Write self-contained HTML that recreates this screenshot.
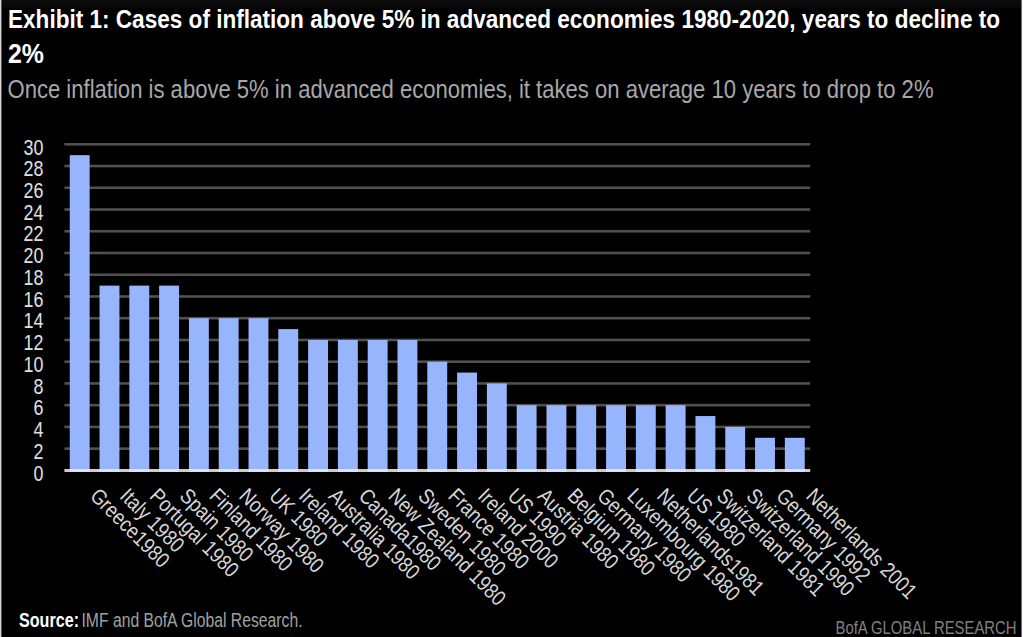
<!DOCTYPE html><html><head><meta charset="utf-8"><style>html,body{margin:0;padding:0;background:#000;width:1023px;height:637px;overflow:hidden}svg{display:block}</style></head><body>
<svg width="1023" height="637" viewBox="0 0 1023 637" font-family="Liberation Sans, sans-serif">
<rect x="0" y="0" width="1023" height="637" fill="#000"/>
<defs><linearGradient id="tg" x1="0" y1="0" x2="0" y2="1"><stop offset="0" stop-color="#0c0c0c"/><stop offset="0.5" stop-color="#0a0a0a"/><stop offset="1" stop-color="#000"/></linearGradient></defs>
<rect x="0" y="0" width="1023" height="10" fill="url(#tg)"/>
<rect x="0" y="0" width="1" height="637" fill="#d8d8d8"/><rect x="1" y="0" width="1" height="637" fill="#5a5a5a"/>
<rect x="1021" y="0" width="1" height="637" fill="#707070"/><rect x="1022" y="0" width="1" height="637" fill="#f8f8f8"/>
<text x="8" y="28.2" font-size="25.5" font-weight="bold" fill="#fff" textLength="992" lengthAdjust="spacingAndGlyphs">Exhibit 1: Cases of inflation above 5% in advanced economies 1980-2020, years to decline to</text>
<text x="8" y="62.8" font-size="27" font-weight="bold" fill="#fff" textLength="36" lengthAdjust="spacingAndGlyphs">2%</text>
<text x="7.5" y="98" font-size="25" fill="#a8a8a8" textLength="926" lengthAdjust="spacingAndGlyphs">Once inflation is above 5% in advanced economies, it takes on average 10 years to drop to 2%</text>
<rect x="64.40" y="447.36" width="745.80" height="2.6" fill="#52504c"/>
<rect x="64.40" y="425.62" width="745.80" height="2.6" fill="#52504c"/>
<rect x="64.40" y="403.88" width="745.80" height="2.6" fill="#52504c"/>
<rect x="64.40" y="382.14" width="745.80" height="2.6" fill="#52504c"/>
<rect x="64.40" y="360.40" width="745.80" height="2.6" fill="#52504c"/>
<rect x="64.40" y="338.66" width="745.80" height="2.6" fill="#52504c"/>
<rect x="64.40" y="316.92" width="745.80" height="2.6" fill="#52504c"/>
<rect x="64.40" y="295.18" width="745.80" height="2.6" fill="#52504c"/>
<rect x="64.40" y="273.44" width="745.80" height="2.6" fill="#52504c"/>
<rect x="64.40" y="251.70" width="745.80" height="2.6" fill="#52504c"/>
<rect x="64.40" y="229.96" width="745.80" height="2.6" fill="#52504c"/>
<rect x="64.40" y="208.22" width="745.80" height="2.6" fill="#52504c"/>
<rect x="64.40" y="186.48" width="745.80" height="2.6" fill="#52504c"/>
<rect x="64.40" y="164.74" width="745.80" height="2.6" fill="#52504c"/>
<rect x="64.40" y="143.00" width="745.80" height="2.6" fill="#52504c"/>
<text x="0" y="0" font-size="21.5" fill="#e0e0e0" text-anchor="end" transform="translate(43.4,480.60) scale(0.83,1)">0</text>
<text x="0" y="0" font-size="21.5" fill="#e0e0e0" text-anchor="end" transform="translate(43.4,458.86) scale(0.83,1)">2</text>
<text x="0" y="0" font-size="21.5" fill="#e0e0e0" text-anchor="end" transform="translate(43.4,437.12) scale(0.83,1)">4</text>
<text x="0" y="0" font-size="21.5" fill="#e0e0e0" text-anchor="end" transform="translate(43.4,415.38) scale(0.83,1)">6</text>
<text x="0" y="0" font-size="21.5" fill="#e0e0e0" text-anchor="end" transform="translate(43.4,393.64) scale(0.83,1)">8</text>
<text x="0" y="0" font-size="21.5" fill="#e0e0e0" text-anchor="end" transform="translate(43.4,371.90) scale(0.83,1)">10</text>
<text x="0" y="0" font-size="21.5" fill="#e0e0e0" text-anchor="end" transform="translate(43.4,350.16) scale(0.83,1)">12</text>
<text x="0" y="0" font-size="21.5" fill="#e0e0e0" text-anchor="end" transform="translate(43.4,328.42) scale(0.83,1)">14</text>
<text x="0" y="0" font-size="21.5" fill="#e0e0e0" text-anchor="end" transform="translate(43.4,306.68) scale(0.83,1)">16</text>
<text x="0" y="0" font-size="21.5" fill="#e0e0e0" text-anchor="end" transform="translate(43.4,284.94) scale(0.83,1)">18</text>
<text x="0" y="0" font-size="21.5" fill="#e0e0e0" text-anchor="end" transform="translate(43.4,263.20) scale(0.83,1)">20</text>
<text x="0" y="0" font-size="21.5" fill="#e0e0e0" text-anchor="end" transform="translate(43.4,241.46) scale(0.83,1)">22</text>
<text x="0" y="0" font-size="21.5" fill="#e0e0e0" text-anchor="end" transform="translate(43.4,219.72) scale(0.83,1)">24</text>
<text x="0" y="0" font-size="21.5" fill="#e0e0e0" text-anchor="end" transform="translate(43.4,197.98) scale(0.83,1)">26</text>
<text x="0" y="0" font-size="21.5" fill="#e0e0e0" text-anchor="end" transform="translate(43.4,176.24) scale(0.83,1)">28</text>
<text x="0" y="0" font-size="21.5" fill="#e0e0e0" text-anchor="end" transform="translate(43.4,154.50) scale(0.83,1)">30</text>
<rect x="69.75" y="155.17" width="19.9" height="315.23" fill="#97b5fc"/>
<rect x="99.55" y="285.61" width="19.9" height="184.79" fill="#97b5fc"/>
<rect x="129.34" y="285.61" width="19.9" height="184.79" fill="#97b5fc"/>
<rect x="159.14" y="285.61" width="19.9" height="184.79" fill="#97b5fc"/>
<rect x="188.93" y="318.22" width="19.9" height="152.18" fill="#97b5fc"/>
<rect x="218.73" y="318.22" width="19.9" height="152.18" fill="#97b5fc"/>
<rect x="248.53" y="318.22" width="19.9" height="152.18" fill="#97b5fc"/>
<rect x="278.32" y="329.09" width="19.9" height="141.31" fill="#97b5fc"/>
<rect x="308.12" y="339.96" width="19.9" height="130.44" fill="#97b5fc"/>
<rect x="337.91" y="339.96" width="19.9" height="130.44" fill="#97b5fc"/>
<rect x="367.71" y="339.96" width="19.9" height="130.44" fill="#97b5fc"/>
<rect x="397.51" y="339.96" width="19.9" height="130.44" fill="#97b5fc"/>
<rect x="427.30" y="361.70" width="19.9" height="108.70" fill="#97b5fc"/>
<rect x="457.10" y="372.57" width="19.9" height="97.83" fill="#97b5fc"/>
<rect x="486.89" y="383.44" width="19.9" height="86.96" fill="#97b5fc"/>
<rect x="516.69" y="405.18" width="19.9" height="65.22" fill="#97b5fc"/>
<rect x="546.49" y="405.18" width="19.9" height="65.22" fill="#97b5fc"/>
<rect x="576.28" y="405.18" width="19.9" height="65.22" fill="#97b5fc"/>
<rect x="606.08" y="405.18" width="19.9" height="65.22" fill="#97b5fc"/>
<rect x="635.87" y="405.18" width="19.9" height="65.22" fill="#97b5fc"/>
<rect x="665.67" y="405.18" width="19.9" height="65.22" fill="#97b5fc"/>
<rect x="695.47" y="416.05" width="19.9" height="54.35" fill="#97b5fc"/>
<rect x="725.26" y="426.92" width="19.9" height="43.48" fill="#97b5fc"/>
<rect x="755.06" y="437.79" width="19.9" height="32.61" fill="#97b5fc"/>
<rect x="784.85" y="437.79" width="19.9" height="32.61" fill="#97b5fc"/>
<rect x="64.40" y="469" width="745.80" height="3" fill="#cfccc6"/>
<rect x="69.75" y="469" width="19.9" height="3" fill="#dae2fe"/>
<rect x="99.55" y="469" width="19.9" height="3" fill="#dae2fe"/>
<rect x="129.34" y="469" width="19.9" height="3" fill="#dae2fe"/>
<rect x="159.14" y="469" width="19.9" height="3" fill="#dae2fe"/>
<rect x="188.93" y="469" width="19.9" height="3" fill="#dae2fe"/>
<rect x="218.73" y="469" width="19.9" height="3" fill="#dae2fe"/>
<rect x="248.53" y="469" width="19.9" height="3" fill="#dae2fe"/>
<rect x="278.32" y="469" width="19.9" height="3" fill="#dae2fe"/>
<rect x="308.12" y="469" width="19.9" height="3" fill="#dae2fe"/>
<rect x="337.91" y="469" width="19.9" height="3" fill="#dae2fe"/>
<rect x="367.71" y="469" width="19.9" height="3" fill="#dae2fe"/>
<rect x="397.51" y="469" width="19.9" height="3" fill="#dae2fe"/>
<rect x="427.30" y="469" width="19.9" height="3" fill="#dae2fe"/>
<rect x="457.10" y="469" width="19.9" height="3" fill="#dae2fe"/>
<rect x="486.89" y="469" width="19.9" height="3" fill="#dae2fe"/>
<rect x="516.69" y="469" width="19.9" height="3" fill="#dae2fe"/>
<rect x="546.49" y="469" width="19.9" height="3" fill="#dae2fe"/>
<rect x="576.28" y="469" width="19.9" height="3" fill="#dae2fe"/>
<rect x="606.08" y="469" width="19.9" height="3" fill="#dae2fe"/>
<rect x="635.87" y="469" width="19.9" height="3" fill="#dae2fe"/>
<rect x="665.67" y="469" width="19.9" height="3" fill="#dae2fe"/>
<rect x="695.47" y="469" width="19.9" height="3" fill="#dae2fe"/>
<rect x="725.26" y="469" width="19.9" height="3" fill="#dae2fe"/>
<rect x="755.06" y="469" width="19.9" height="3" fill="#dae2fe"/>
<rect x="784.85" y="469" width="19.9" height="3" fill="#dae2fe"/>
<text x="0" y="0" font-size="21.5" fill="#d6d6d6" transform="translate(88.92,497.20) rotate(45) scale(0.86,1)">Greece1980</text>
<text x="0" y="0" font-size="21.5" fill="#d6d6d6" transform="translate(118.75,497.20) rotate(45) scale(0.86,1)">Italy 1980</text>
<text x="0" y="0" font-size="21.5" fill="#d6d6d6" transform="translate(148.58,497.20) rotate(45) scale(0.86,1)">Portugal 1980</text>
<text x="0" y="0" font-size="21.5" fill="#d6d6d6" transform="translate(178.41,497.20) rotate(45) scale(0.86,1)">Spain 1980</text>
<text x="0" y="0" font-size="21.5" fill="#d6d6d6" transform="translate(208.24,497.20) rotate(45) scale(0.86,1)">Finland 1980</text>
<text x="0" y="0" font-size="21.5" fill="#d6d6d6" transform="translate(238.08,497.20) rotate(45) scale(0.86,1)">Norway 1980</text>
<text x="0" y="0" font-size="21.5" fill="#d6d6d6" transform="translate(267.91,497.20) rotate(45) scale(0.86,1)">UK 1980</text>
<text x="0" y="0" font-size="21.5" fill="#d6d6d6" transform="translate(297.74,497.20) rotate(45) scale(0.86,1)">Ireland 1980</text>
<text x="0" y="0" font-size="21.5" fill="#d6d6d6" transform="translate(327.57,497.20) rotate(45) scale(0.86,1)">Australia 1980</text>
<text x="0" y="0" font-size="21.5" fill="#d6d6d6" transform="translate(357.40,497.20) rotate(45) scale(0.86,1)">Canada1980</text>
<text x="0" y="0" font-size="21.5" fill="#d6d6d6" transform="translate(387.24,497.20) rotate(45) scale(0.86,1)">New Zealand 1980</text>
<text x="0" y="0" font-size="21.5" fill="#d6d6d6" transform="translate(417.07,497.20) rotate(45) scale(0.86,1)">Sweden 1980</text>
<text x="0" y="0" font-size="21.5" fill="#d6d6d6" transform="translate(446.90,497.20) rotate(45) scale(0.86,1)">France 1980</text>
<text x="0" y="0" font-size="21.5" fill="#d6d6d6" transform="translate(476.73,497.20) rotate(45) scale(0.86,1)">Ireland 2000</text>
<text x="0" y="0" font-size="21.5" fill="#d6d6d6" transform="translate(506.56,497.20) rotate(45) scale(0.86,1)">US 1990</text>
<text x="0" y="0" font-size="21.5" fill="#d6d6d6" transform="translate(536.40,497.20) rotate(45) scale(0.86,1)">Austria 1980</text>
<text x="0" y="0" font-size="21.5" fill="#d6d6d6" transform="translate(566.23,497.20) rotate(45) scale(0.86,1)">Belgium 1980</text>
<text x="0" y="0" font-size="21.5" fill="#d6d6d6" transform="translate(596.06,497.20) rotate(45) scale(0.86,1)">Germany 1980</text>
<text x="0" y="0" font-size="21.5" fill="#d6d6d6" transform="translate(625.89,497.20) rotate(45) scale(0.86,1)">Luxembourg 1980</text>
<text x="0" y="0" font-size="21.5" fill="#d6d6d6" transform="translate(655.72,497.20) rotate(45) scale(0.86,1)">Netherlands1981</text>
<text x="0" y="0" font-size="21.5" fill="#d6d6d6" transform="translate(685.56,497.20) rotate(45) scale(0.86,1)">US 1980</text>
<text x="0" y="0" font-size="21.5" fill="#d6d6d6" transform="translate(715.39,497.20) rotate(45) scale(0.86,1)">Switzerland 1981</text>
<text x="0" y="0" font-size="21.5" fill="#d6d6d6" transform="translate(745.22,497.20) rotate(45) scale(0.86,1)">Switzerland 1990</text>
<text x="0" y="0" font-size="21.5" fill="#d6d6d6" transform="translate(775.05,497.20) rotate(45) scale(0.86,1)">Germany 1992</text>
<text x="0" y="0" font-size="21.5" fill="#d6d6d6" transform="translate(804.88,497.20) rotate(45) scale(0.86,1)">Netherlands 2001</text>
<text x="19" y="627" font-size="19.5" font-weight="bold" fill="#fff" textLength="60" lengthAdjust="spacingAndGlyphs">Source:</text>
<text x="81.5" y="627" font-size="19.5" fill="#a0a0a0" textLength="221" lengthAdjust="spacingAndGlyphs">IMF and BofA Global Research.</text>
<text x="835.5" y="634" font-size="19" fill="#808080" textLength="181" lengthAdjust="spacingAndGlyphs">BofA GLOBAL RESEARCH</text>
</svg></body></html>
